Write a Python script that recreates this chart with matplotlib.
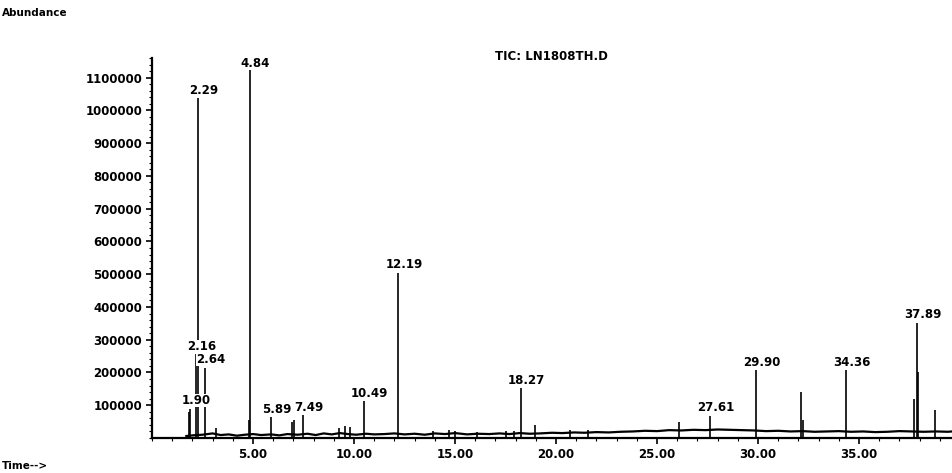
import matplotlib
matplotlib.use("Agg")
import matplotlib.pyplot as plt
from matplotlib.ticker import MultipleLocator, FixedLocator, FuncFormatter

plt.rcParams["font.family"] = "DejaVu Sans"
plt.rcParams["font.weight"] = "bold"

# baseline trace of the total ion current (min, abundance)
base_t = [1.70, 2.0, 2.5, 3.0, 3.4, 3.8, 4.2, 4.6, 5.0, 5.4,
          5.9, 6.3, 6.7, 7.2, 7.7, 8.1, 8.5, 8.9, 9.3, 9.7,
          10.1, 10.6, 11.0, 11.5, 12.0, 12.5, 13.0, 13.5, 14.0, 14.5,
          15.0, 15.6, 16.1, 16.7, 17.2, 17.7, 18.2, 18.7, 19.2, 19.8,
          20.3, 20.9, 21.4, 22.0, 22.6, 23.2, 23.8, 24.4, 25.0, 25.6,
          26.2, 26.8, 27.4, 28.0, 28.6, 29.2, 29.8, 30.4, 31.0, 31.6,
          32.2, 32.8, 33.4, 34.0, 34.6, 35.2, 35.8, 36.4, 37.0, 37.6,
          38.2, 38.8, 39.4, 39.6]
base_y = [6000, 8000, 10000, 14000, 9000, 11000, 7000, 10000, 12000, 9000,
          11000, 8000, 12000, 10000, 13000, 9000, 14000, 11000, 15000, 12000,
          10000, 13000, 11000, 12000, 14000, 11000, 13000, 10000, 14000, 12000,
          15000, 11000, 13000, 12000, 14000, 12000, 15000, 13000, 14000, 16000,
          15000, 17000, 16000, 18000, 17000, 19000, 20000, 22000, 21000, 24000,
          23000, 25000, 24000, 26000, 25000, 24000, 23000, 21000, 22000, 20000,
          21000, 19000, 20000, 21000, 19000, 20000, 18000, 19000, 21000, 20000,
          19000, 20000, 19000, 20000]

# peak retention times and apex abundances
peak_t = [1.83, 1.90, 2.16, 2.29, 2.64, 3.17, 4.80, 4.84, 5.89, 6.95,
          7.03, 7.49, 9.25, 9.55, 9.80, 10.49, 12.19, 13.90, 14.70, 15.00,
          16.10, 17.50, 17.90, 18.27, 18.95, 20.70, 21.60, 26.10, 27.61, 29.90,
          32.13, 32.22, 34.36, 37.70, 37.89, 37.93, 38.76]
peak_h = [80000, 90000, 255000, 1037000, 215000, 30000, 55000, 1131000, 64000, 50000,
          55000, 70000, 30000, 38000, 35000, 113000, 505000, 22000, 24000, 20000,
          18000, 20000, 22000, 152000, 40000, 24000, 24000, 50000, 68000, 207000,
          140000, 55000, 207000, 120000, 352000, 200000, 85000]

# peaks that carry a retention-time label
labelled = [1.90, 2.16, 2.29, 2.64, 4.84, 5.89, 7.49, 10.49, 12.19, 18.27,
            27.61, 29.90, 34.36, 37.89]

x_ticks = [5, 10, 15, 20, 25, 30, 35]
y_ticks = [100000, 200000, 300000, 400000, 500000, 600000,
           700000, 800000, 900000, 1000000, 1100000]

fig = plt.figure(figsize=(9.52, 4.73), dpi=100)
ax = fig.add_axes([152 / 952, 35 / 473, 800 / 952, 380 / 473])

ax.plot(base_t, base_y, color="black", lw=1.6, solid_joinstyle="miter")
ax.vlines(peak_t, 0, peak_h, color="black", lw=1.2)

heights = dict(zip(peak_t, peak_h))
for t in labelled:
    h = min(heights[t], 1120000)
    ax.annotate(f"{t:.2f}", xy=(t, h), xytext=(4, 1), textcoords="offset points",
                ha="center", va="bottom", fontsize=8.5, fontweight="bold",
                bbox=dict(boxstyle="square,pad=0.0", fc="white", ec="none"))

ax.set_xlim(0, 39.6)
ax.set_ylim(0, 1160000)

for side in ("top", "right"):
    ax.spines[side].set_visible(False)
ax.spines["left"].set_linewidth(1.6)
ax.spines["bottom"].set_linewidth(1.6)

ax.xaxis.set_major_locator(FixedLocator(x_ticks))
ax.xaxis.set_minor_locator(MultipleLocator(1))
ax.xaxis.set_major_formatter(FuncFormatter(lambda v, p: f"{v:.2f}"))
ax.yaxis.set_major_locator(FixedLocator(y_ticks))
ax.yaxis.set_minor_locator(MultipleLocator(20000))
ax.yaxis.set_major_formatter(FuncFormatter(lambda v, p: f"{int(v)}"))
ax.tick_params(axis="both", which="major", direction="out", length=4, width=1.2,
               labelsize=8.5, pad=3)
ax.tick_params(axis="both", which="minor", direction="out", length=2, width=0.8)

fig.text(0.002, 0.972, "Abundance", fontsize=7.5, fontweight="bold", va="center")
fig.text(0.002, 0.015, "Time-->", fontsize=7.5, fontweight="bold", va="center")
fig.text(551 / 952, 1 - 57 / 473, "TIC: LN1808TH.D", fontsize=8.5,
         fontweight="bold", ha="center", va="center")

fig.savefig("out.png", dpi=100)
